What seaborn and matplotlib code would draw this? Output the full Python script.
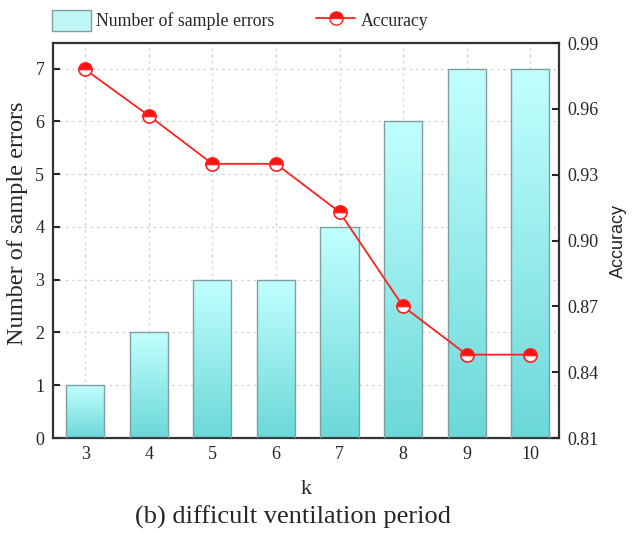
import numpy as np
import pandas as pd
import matplotlib
matplotlib.use("Agg")
import matplotlib.pyplot as plt
import seaborn as sns
from matplotlib.colors import LinearSegmentedColormap
from matplotlib.lines import Line2D
from matplotlib.patches import Patch

k_values = ["3", "4", "5", "6", "7", "8", "9", "10"]
sample_errors = [1, 2, 3, 3, 4, 6, 7, 7]
accuracy = [0.978, 0.957, 0.935, 0.935, 0.913, 0.870, 0.848, 0.848]

sns.set_theme(style="white")
plt.rcParams["font.family"] = ["Liberation Serif", "DejaVu Serif"]

df = pd.DataFrame({"k": k_values, "errors": sample_errors, "acc": accuracy})

fig = plt.figure(figsize=(6.34, 5.33), dpi=100)
ax = fig.add_axes([0.0831, 0.1782, 0.7986, 0.7408])

sns.barplot(data=df, x="k", y="errors", order=k_values, ax=ax, width=0.6,
            color="#b0f0f0", edgecolor="#7f9f9f", linewidth=1.0, zorder=2)

# gradient fill for bars
cmap = LinearSegmentedColormap.from_list("cy", ["#6cd8d8", "#c2ffff"])
grad = np.linspace(0, 1, 256).reshape(-1, 1)
for p in list(ax.patches):
    x0, y0 = p.get_x(), p.get_y()
    w, h = p.get_width(), p.get_height()
    im = ax.imshow(grad, extent=[x0, x0 + w, y0, y0 + h], origin="lower",
                   cmap=cmap, aspect="auto", zorder=2)
    im.set_clip_path(p)
    p.set_facecolor("none")
    p.set_zorder(3)

ax.set_xlim(-0.51, 7.45)
ax.set_ylim(0, 7.48)
ax.set_yticks(range(0, 8))
ax.grid(True, linestyle=(0, (2, 3)), color="#d2d2d2", linewidth=0.9, zorder=0)
ax.set_axisbelow(True)
ax.set_xlabel("k", fontsize=16, labelpad=12)
ax.set_ylabel("Number of sample errors", fontsize=17.5)
ax.yaxis.set_label_coords(-0.048, 0.545)
ax.tick_params(axis="both", direction="in", length=5, width=1.5, labelsize=13,
               left=True, bottom=True, pad=6)
for s in ax.spines.values():
    s.set_color("#333333")
    s.set_linewidth(1.6)

ax2 = ax.twinx()
sns.pointplot(data=df, x="k", y="acc", order=k_values, ax=ax2, color="#ff2020",
              markers="o", linestyles="-", errorbar=None)
for ln in ax2.lines:
    ln.set_linewidth(1.3)
    ln.set_marker("o")
    ln.set_markersize(9.5)
    ln.set_fillstyle("top")
    ln.set_markerfacecolor("#ff1010")
    ln.set_markerfacecoloralt("white")
    ln.set_markeredgecolor("#ff2020")
    ln.set_markeredgewidth(1.2)
for c in ax2.collections:
    c.remove()
ax2.set_xlim(-0.51, 7.45)
ax2.set_ylim(0.81, 0.99)
acc_ticks = [0.81, 0.84, 0.87, 0.90, 0.93, 0.96, 0.99]
ax2.set_yticks(acc_ticks)
ax2.set_yticklabels([f"{t:.2f}" for t in acc_ticks])
ax2.set_ylabel("Accuracy", fontsize=13, family=["Liberation Sans", "DejaVu Sans"], labelpad=8)
ax2.tick_params(axis="y", direction="in", length=5, width=1.5, labelsize=13, right=True, pad=6)
ax2.grid(False)
for s in ax2.spines.values():
    s.set_visible(False)
ax.set_zorder(1)
ax2.set_zorder(2)
ax2.patch.set_visible(False)

handles = [
    Patch(facecolor="#c0f6f6", edgecolor="#7f9f9f", linewidth=1.0, label="Number of sample errors"),
    Line2D([0], [0], color="#ff2020", lw=1.3, marker="o", markersize=9.5, fillstyle="top",
           markerfacecolor="#ff1010", markerfacecoloralt="white", markeredgecolor="#ff2020",
           label="Accuracy"),
]
fig.legend(handles=handles, loc="upper left", bbox_to_anchor=(0.056, 1.012), ncol=2,
           frameon=False, fontsize=12.8, handlelength=2.2, handleheight=1.45,
           columnspacing=2.35, handletextpad=0.3)

fig.text(0.462, 0.03, "(b) difficult ventilation period", ha="center", va="center", fontsize=19)

fig.savefig("out.png", dpi=100)
